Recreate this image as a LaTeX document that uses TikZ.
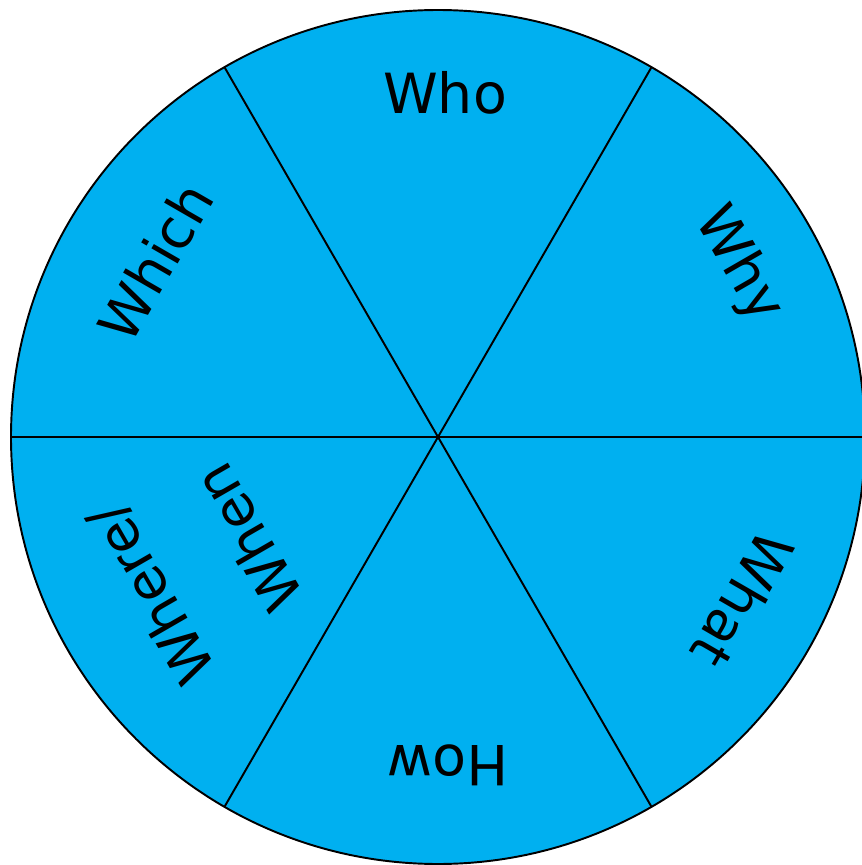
\documentclass[tikz,border=0pt]{standalone}
\usepackage{fontspec}
\setmainfont{DejaVu Sans}
\usetikzlibrary{positioning}
\definecolor{wheelblue}{RGB}{0,176,240}

\begin{document}
\begin{tikzpicture}[x=0.01in, y=0.01in, line width=1.4pt,
    every node/.style={inner sep=0pt, align=center, font=\fontsize{40}{81}\selectfont}]
    \useasboundingbox (-438,-428) rectangle (424,437);
    % Wheel

    \draw[fill=wheelblue] (0,0) circle (427);
    \coordinate (centre) at (0,0);
    \coordinate (e) at (0:427);
    \coordinate (ne) at (60:427);
    \coordinate (nw) at (120:427);
    \coordinate (w) at (180:427);
    \coordinate (sw) at (240:427);
    \coordinate (se) at (300:427);
    % Spokes

    \draw (e) -- (w);
    \draw (ne) -- (sw);
    \draw (nw) -- (se);
    % Words

    \node (who) at (7,344) {Who};
    \node[rotate=-60] (why) at (300,172) {Why};
    \node[rotate=-120] (what) at (305,-163) {What};
    \node[rotate=180] (how) at (10,-328) {How};
    \node[rotate=120] (where) at (-239,-129) {Where/\\When};
    \node[rotate=60] (which) at (-283,175) {Which};

\end{tikzpicture}
\end{document}
